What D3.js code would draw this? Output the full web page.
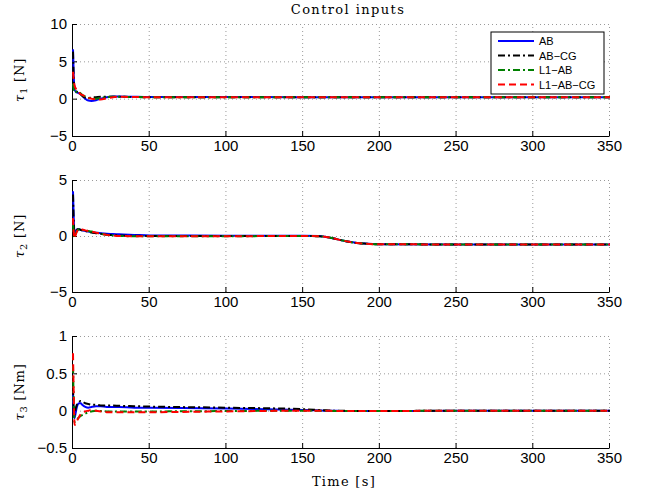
<!DOCTYPE html>
<html>
<head>
<meta charset="utf-8">
<script src="https://cdn.jsdelivr.net/npm/d3@7"></script>
<style>
  body { margin: 0; background: #fff; }
  .tick text { font-family: "Liberation Sans", Arial, sans-serif; font-size: 15px; }
  .grid line { stroke: #9a9a9a; stroke-dasharray: 1,3; }
  .grid path { display: none; }
</style>
</head>
<body>
<div id="chart"></div>
<script>
// time samples (s)
const time = [0, 0.5, 1, 2, 3, 4, 5, 6, 8, 10, 12, 15, 18, 22, 26, 30, 40, 50, 100, 150, 160, 165, 170, 175, 180, 185, 190, 200, 250, 300, 350];

const seriesNames = ["AB", "AB\u2212CG", "L1\u2212AB", "L1\u2212AB\u2212CG"];

// tau1 [N]
const tau1AB     = [6.6, 3.0, 1.2, 0.9, 0.8, 0.7, 0.6, 0.4, 0.0, -0.25, -0.3, -0.2, 0.0, 0.2, 0.3, 0.3, 0.25, 0.22, 0.22, 0.2, 0.2, 0.2, 0.2, 0.18, 0.18, 0.18, 0.18, 0.18, 0.18, 0.18, 0.18];
const tau1ABCG   = [6.3, 2.5, 1.3, 1.0, 0.9, 0.8, 0.6, 0.4, 0.15, 0.1, 0.15, 0.2, 0.25, 0.25, 0.25, 0.25, 0.22, 0.2, 0.2, 0.2, 0.2, 0.2, 0.2, 0.2, 0.2, 0.2, 0.2, 0.2, 0.2, 0.2, 0.2];
const tau1L1AB   = [2.0, 1.2, 0.8, 0.9, 1.0, 0.9, 0.7, 0.5, 0.3, 0.1, 0.0, 0.0, 0.1, 0.2, 0.25, 0.25, 0.22, 0.2, 0.2, 0.2, 0.2, 0.2, 0.2, 0.2, 0.2, 0.2, 0.2, 0.2, 0.2, 0.2, 0.2];
const tau1L1ABCG = [3.6, 2.5, 1.8, 1.3, 1.0, 0.8, 0.6, 0.5, 0.3, 0.1, 0.0, -0.1, -0.1, 0.05, 0.2, 0.25, 0.22, 0.2, 0.2, 0.2, 0.2, 0.2, 0.2, 0.2, 0.2, 0.2, 0.2, 0.2, 0.2, 0.2, 0.2];

// tau2 [N]
const tau2AB     = [4.0, 1.5, 0.3, 0.5, 0.6, 0.6, 0.55, 0.5, 0.45, 0.4, 0.35, 0.3, 0.25, 0.2, 0.18, 0.15, 0.1, 0.05, 0.03, 0.02, 0.0, -0.08, -0.22, -0.38, -0.52, -0.62, -0.68, -0.74, -0.75, -0.75, -0.75];
const tau2ABCG   = [3.7, 1.2, 0.1, 0.4, 0.6, 0.6, 0.55, 0.5, 0.45, 0.38, 0.3, 0.25, 0.2, 0.12, 0.08, 0.05, 0.02, 0.0, 0.0, 0.0, -0.02, -0.08, -0.22, -0.38, -0.52, -0.62, -0.68, -0.74, -0.75, -0.75, -0.75];
const tau2L1AB   = [1.0, 0.2, -0.1, 0.3, 0.5, 0.6, 0.6, 0.55, 0.5, 0.45, 0.4, 0.3, 0.2, 0.1, 0.05, 0.0, -0.02, -0.03, -0.02, 0.0, -0.02, -0.08, -0.22, -0.38, -0.52, -0.62, -0.68, -0.74, -0.75, -0.75, -0.75];
const tau2L1ABCG = [1.6, 0.3, -0.2, 0.2, 0.5, 0.6, 0.6, 0.58, 0.5, 0.45, 0.4, 0.3, 0.2, 0.1, 0.05, 0.0, -0.02, -0.03, -0.02, 0.0, -0.02, -0.08, -0.22, -0.38, -0.52, -0.62, -0.68, -0.74, -0.75, -0.75, -0.75];

// tau3 [Nm]
const tau3AB     = [0.25, -0.05, -0.1, 0.0, 0.08, 0.1, 0.1, 0.08, 0.05, 0.04, 0.05, 0.06, 0.06, 0.05, 0.05, 0.05, 0.04, 0.04, 0.03, 0.01, 0.005, 0.0, 0.0, -0.005, -0.005, -0.005, -0.005, -0.005, 0.0, 0.0, 0.0];
const tau3ABCG   = [0.3, 0.0, -0.05, 0.05, 0.1, 0.12, 0.13, 0.12, 0.1, 0.09, 0.08, 0.08, 0.07, 0.07, 0.07, 0.065, 0.06, 0.055, 0.04, 0.02, 0.01, 0.005, 0.0, 0.0, -0.005, -0.005, -0.005, -0.005, 0.0, 0.0, 0.0];
const tau3L1AB   = [0.6, 0.1, -0.15, -0.14, -0.11, -0.09, -0.07, -0.06, -0.04, -0.02, -0.01, 0.0, -0.005, -0.01, -0.01, -0.01, -0.01, -0.01, -0.005, 0.0, 0.0, 0.0, -0.005, -0.005, -0.005, -0.005, -0.005, -0.005, 0.0, 0.0, 0.0];
const tau3L1ABCG = [0.77, 0.2, -0.19, -0.17, -0.12, -0.08, -0.05, -0.03, -0.01, 0.0, 0.01, 0.0, -0.01, -0.02, -0.02, -0.02, -0.02, -0.02, -0.01, 0.0, 0.0, 0.0, -0.005, -0.005, -0.005, -0.005, -0.005, -0.005, 0.0, 0.0, 0.0];

const xTicks = [0, 50, 100, 150, 200, 250, 300, 350];
const yTicks1 = [-5, 0, 5, 10];
const yTicks2 = [-5, 0, 5];
const yTicks3 = [-0.5, 0, 0.5, 1];

const panels = [
  { label: "1", unit: "N", domain: [-5, 10], ticks: yTicks1, series: [tau1AB, tau1ABCG, tau1L1AB, tau1L1ABCG] },
  { label: "2", unit: "N", domain: [-5, 5], ticks: yTicks2, series: [tau2AB, tau2ABCG, tau2L1AB, tau2L1ABCG] },
  { label: "3", unit: "Nm", domain: [-0.5, 1], ticks: yTicks3, series: [tau3AB, tau3ABCG, tau3L1AB, tau3L1ABCG] }
];

const styles = [
  { color: "#0000ff", dash: null },
  { color: "#000000", dash: "7,3,2,3" },
  { color: "#008000", dash: "7,3,2,3" },
  { color: "#ff0000", dash: "7,4" }
];

let width = 648, height = 495;
let left = 72, right = 609, panelH = 112;
let tops = [24, 180, 336];

let svg = d3.select("#chart").append("svg")
  .attr("width", width)
  .attr("height", height);

let x = d3.scaleLinear().domain([0, 350]).range([left, right]);

svg.append("text")
  .attr("x", 348)
  .attr("y", 14)
  .attr("text-anchor", "middle")
  .attr("font-family", "DejaVu Serif, serif")
  .attr("font-size", "13px")
  .attr("letter-spacing", "1.4px")
  .text("Control inputs");

panels.forEach((p, i) => {
  let top = tops[i], bottom = top + panelH;
  let y = d3.scaleLinear().domain(p.domain).range([bottom, top]);

  // grid
  svg.append("g").attr("class", "grid")
    .attr("transform", `translate(0,${bottom})`)
    .call(d3.axisBottom(x).tickValues(xTicks).tickSize(-panelH).tickFormat(""));
  svg.append("g").attr("class", "grid")
    .attr("transform", `translate(${left},0)`)
    .call(d3.axisLeft(y).tickValues(p.ticks).tickSize(-(right - left)).tickFormat(""));

  // axes with inward ticks (drawn below the data, as in the original)
  svg.append("g")
    .attr("transform", `translate(0,${bottom})`)
    .call(d3.axisBottom(x).tickValues(xTicks).tickSizeInner(-5).tickSizeOuter(0).tickPadding(4))
    .call(a => a.selectAll("text").attr("fill", "#000"));
  svg.append("g")
    .attr("transform", `translate(${left},0)`)
    .call(d3.axisLeft(y).tickValues(p.ticks).tickSizeInner(-5).tickSizeOuter(0).tickPadding(5)
      .tickFormat(d => d3.format("")(d).replace("-", "\u2212")))
    .call(a => a.selectAll("text").attr("fill", "#000"));

  // lines
  let clipId = "clip" + i;
  svg.append("clipPath").attr("id", clipId)
    .append("rect").attr("x", left - 3).attr("y", top - 3).attr("width", right - left + 6).attr("height", panelH + 6);

  let line = d3.line()
    .x((d, k) => x(time[k]) + 1)
    .y(d => y(d))
    .curve(d3.curveMonotoneX);

  let g = svg.append("g").attr("clip-path", `url(#${clipId})`);
  p.series.forEach((s, k) => {
    g.append("path")
      .datum(s)
      .attr("d", line)
      .attr("fill", "none")
      .attr("stroke", styles[k].color)
      .attr("stroke-width", 2)
      .attr("stroke-dasharray", styles[k].dash);
  });

  // y label
  let lab = svg.append("text")
    .attr("transform", `translate(24,${(top + bottom) / 2}) rotate(-90)`)
    .attr("text-anchor", "middle")
    .attr("font-family", "DejaVu Serif, serif")
    .attr("font-size", "13px")
    .attr("letter-spacing", "0.8px");
  lab.append("tspan").attr("font-style", "italic").text("\u03c4");
  lab.append("tspan").attr("font-size", "10px").attr("dy", 3).text(p.label);
  lab.append("tspan").attr("dy", -3).text(" [" + p.unit + "]");
});

// x label
svg.append("text")
  .attr("x", 344)
  .attr("y", 486)
  .attr("text-anchor", "middle")
  .attr("font-family", "DejaVu Serif, serif")
  .attr("font-size", "13px")
  .attr("letter-spacing", "1.3px")
  .text("Time [s]");

// legend
let legend = svg.append("g").attr("transform", "translate(491,32)");
legend.append("rect")
  .attr("width", 113)
  .attr("height", 62)
  .attr("fill", "#fff")
  .attr("stroke", "#000");
seriesNames.forEach((name, k) => {
  let ly = 9 + k * 14.5;
  legend.append("line")
    .attr("x1", 7).attr("x2", 43)
    .attr("y1", ly).attr("y2", ly)
    .attr("stroke", styles[k].color)
    .attr("stroke-width", 2)
    .attr("stroke-dasharray", styles[k].dash);
  legend.append("text")
    .attr("x", 48)
    .attr("y", ly + 4)
    .attr("font-family", "Liberation Sans, Arial, sans-serif")
    .attr("font-size", "11px")
    .text(name);
});
</script>
</body>
</html>
